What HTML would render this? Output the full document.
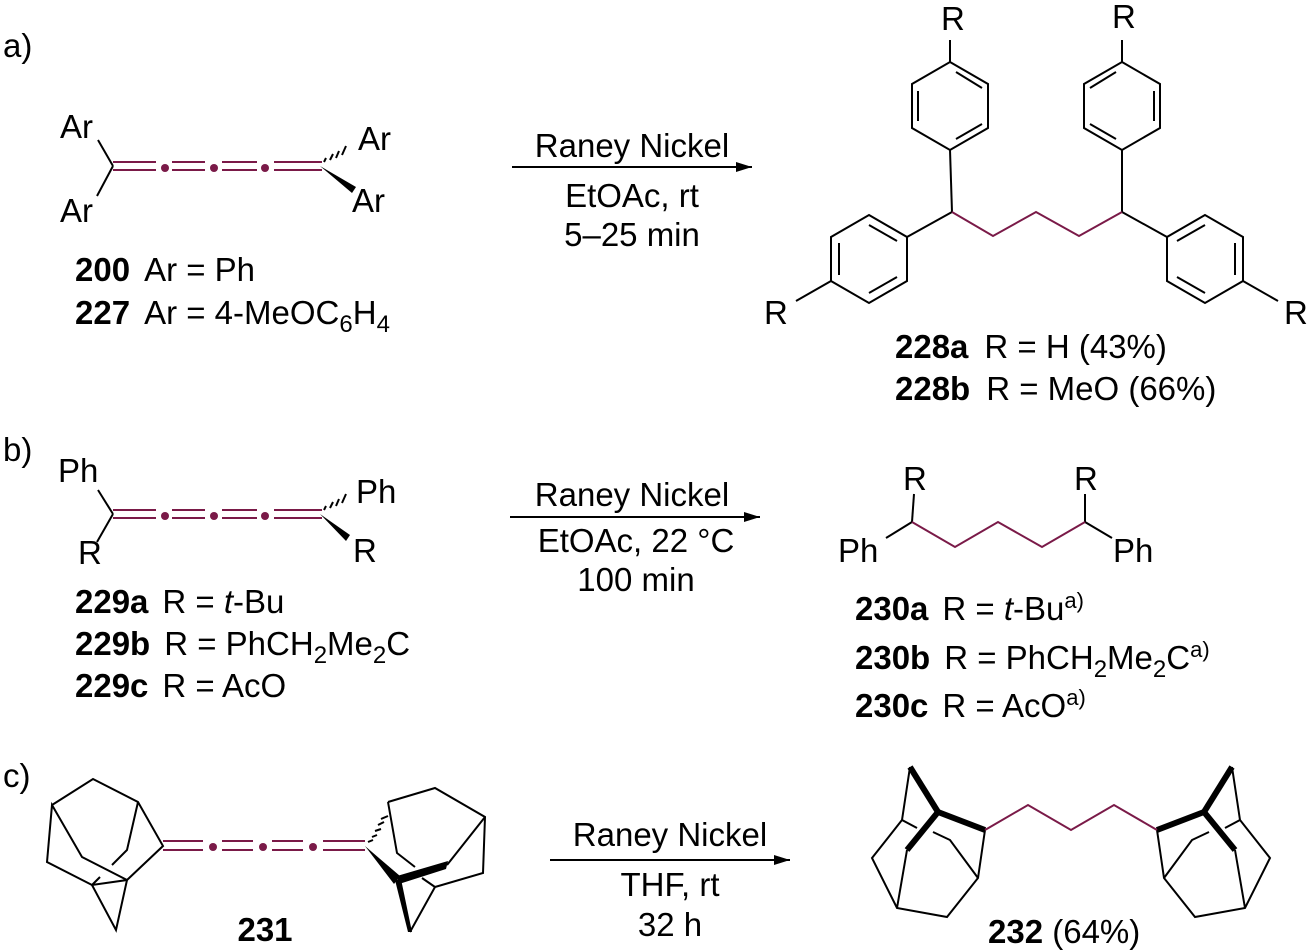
<!DOCTYPE html>
<html><head><meta charset="utf-8"><style>
body{margin:0;background:#fff}
svg{display:block}
text{font-family:"Liberation Sans",sans-serif;font-size:33px;fill:#000}
.b{font-weight:bold}
</style></head><body>
<svg width="1311" height="952" viewBox="0 0 1311 952" xmlns="http://www.w3.org/2000/svg">
<defs><marker id="ah" markerWidth="16" markerHeight="10" refX="16" refY="5" orient="auto" markerUnits="userSpaceOnUse"><path d="M0,0 L16,5 L0,10 Z" fill="#000"/></marker></defs>
<g stroke="#000" stroke-width="2" fill="none">
<line x1="113" y1="166" x2="98" y2="140"/><line x1="113" y1="166" x2="97" y2="196"/>
</g>
<polygon points="320,166 356,187 352,193" fill="#000"/>
<g stroke="#7a1a48" stroke-width="2">
<line x1="113" y1="162" x2="156" y2="162"/><line x1="113" y1="170" x2="156" y2="170"/>
<line x1="172" y1="162" x2="205" y2="162"/><line x1="172" y1="170" x2="205" y2="170"/>
<line x1="222" y1="162" x2="257" y2="162"/><line x1="222" y1="170" x2="257" y2="170"/>
<line x1="274" y1="162" x2="322" y2="162"/><line x1="274" y1="170" x2="322" y2="170"/>
</g>
<g fill="#7a1a48"><circle cx="165" cy="168" r="4"/><circle cx="214" cy="168" r="4"/><circle cx="265" cy="168" r="4"/></g>
<path d="M324,162 l2,-4 M330,160 l3,-6 M336,158 l3,-7 M342,155 l4,-9" stroke="#000" stroke-width="2"/>
<text x="60" y="138">Ar</text><text x="60" y="222">Ar</text><text x="358" y="150">Ar</text><text x="352" y="212">Ar</text>
<line x1="512" y1="167" x2="752" y2="167" stroke="#000" stroke-width="2" marker-end="url(#ah)"/>
<text x="632" y="157" text-anchor="middle">Raney Nickel</text>
<text x="632" y="207" text-anchor="middle">EtOAc, rt</text>
<text x="632" y="246" text-anchor="middle">5–25 min</text>
<text x="75" y="281"><tspan class="b">200</tspan><tspan dx="14">Ar = Ph</tspan></text>
<text x="75" y="324"><tspan class="b">227</tspan><tspan dx="14">Ar = 4-MeOC</tspan><tspan font-size="24" dy="8">6</tspan><tspan dy="-8">H</tspan><tspan font-size="24" dy="8">4</tspan></text>
<g stroke="#000" stroke-width="2" fill="none">
<polygon points="950,62 988,84 988,128 950,150 912,128 912,84"/>
<line x1="956" y1="72" x2="982" y2="88"/><line x1="982" y1="124" x2="956" y2="139"/><line x1="918" y1="91" x2="918" y2="121"/>
<line x1="950" y1="62" x2="950" y2="40"/><line x1="950" y1="150" x2="952" y2="212"/>
<polygon points="1122,62 1160,84 1160,128 1122,150 1084,128 1084,84"/>
<line x1="1116" y1="72" x2="1090" y2="88"/><line x1="1090" y1="124" x2="1116" y2="139"/><line x1="1154" y1="91" x2="1154" y2="121"/>
<line x1="1122" y1="62" x2="1122" y2="40"/><line x1="1122" y1="150" x2="1122" y2="212"/>
<polygon points="869,215 907,237 907,281 869,303 831,281 831,237"/>
<line x1="869" y1="225" x2="897" y2="241"/><line x1="897" y1="277" x2="869" y2="293"/><line x1="839" y1="243" x2="839" y2="275"/>
<line x1="907" y1="237" x2="952" y2="212"/><line x1="831" y1="281" x2="796" y2="301"/>
<polygon points="1205,215 1167,237 1167,281 1205,303 1243,281 1243,237"/>
<line x1="1205" y1="225" x2="1177" y2="241"/><line x1="1177" y1="277" x2="1205" y2="293"/><line x1="1235" y1="243" x2="1235" y2="275"/>
<line x1="1167" y1="237" x2="1122" y2="212"/><line x1="1243" y1="281" x2="1278" y2="301"/>
</g>
<polyline points="952,212 993,236 1036,212 1079,236 1122,212" stroke="#7a1a48" stroke-width="2" fill="none"/>
<text x="941" y="30">R</text><text x="1112" y="28">R</text><text x="764" y="324">R</text><text x="1284" y="324">R</text>
<text x="895" y="358"><tspan class="b">228a</tspan><tspan dx="16">R = H (43%)</tspan></text>
<text x="895" y="400"><tspan class="b">228b</tspan><tspan dx="16">R = MeO (66%)</tspan></text>
<text x="3" y="461">b)</text><text x="3" y="57">a)</text><text x="3" y="787">c)</text>
<g stroke="#000" stroke-width="2" fill="none">
<line x1="113" y1="514" x2="98" y2="490"/><line x1="113" y1="514" x2="97" y2="542"/>
</g>
<polygon points="320,514 350,535 346,541" fill="#000"/>
<path d="M324,510 l2,-4 M330,508 l3,-6 M336,506 l3,-7 M342,503 l4,-9" stroke="#000" stroke-width="2"/>
<g stroke="#7a1a48" stroke-width="2">
<line x1="113" y1="510" x2="156" y2="510"/><line x1="113" y1="518" x2="156" y2="518"/>
<line x1="172" y1="510" x2="205" y2="510"/><line x1="172" y1="518" x2="205" y2="518"/>
<line x1="222" y1="510" x2="257" y2="510"/><line x1="222" y1="518" x2="257" y2="518"/>
<line x1="274" y1="510" x2="322" y2="510"/><line x1="274" y1="518" x2="322" y2="518"/>
</g>
<g fill="#7a1a48"><circle cx="165" cy="516" r="4"/><circle cx="214" cy="516" r="4"/><circle cx="265" cy="516" r="4"/></g>
<text x="58" y="482">Ph</text><text x="78" y="564">R</text><text x="356" y="503">Ph</text><text x="353" y="562">R</text>
<line x1="510" y1="517" x2="760" y2="517" stroke="#000" stroke-width="2" marker-end="url(#ah)"/>
<text x="632" y="506" text-anchor="middle">Raney Nickel</text>
<text x="636" y="552" text-anchor="middle">EtOAc, 22 °C</text>
<text x="636" y="591" text-anchor="middle">100 min</text>
<text x="75" y="613"><tspan class="b">229a</tspan><tspan dx="14">R = </tspan><tspan font-style="italic">t</tspan>-Bu</text>
<text x="75" y="655"><tspan class="b">229b</tspan><tspan dx="14">R = PhCH</tspan><tspan font-size="24" dy="8">2</tspan><tspan dy="-8">Me</tspan><tspan font-size="24" dy="8">2</tspan><tspan dy="-8">C</tspan></text>
<text x="75" y="697"><tspan class="b">229c</tspan><tspan dx="14">R = AcO</tspan></text>
<g stroke="#000" stroke-width="2" fill="none">
<line x1="912" y1="522" x2="914" y2="494"/><line x1="912" y1="522" x2="886" y2="538"/>
<line x1="1085" y1="522" x2="1085" y2="494"/><line x1="1085" y1="522" x2="1112" y2="538"/>
</g>
<polyline points="912,522 955,547 998,522 1042,547 1085,522" stroke="#7a1a48" stroke-width="2" fill="none"/>
<text x="903" y="490">R</text><text x="1074" y="490">R</text><text x="838" y="562">Ph</text><text x="1113" y="562">Ph</text>
<text x="855" y="620"><tspan class="b">230a</tspan><tspan dx="14">R = </tspan><tspan font-style="italic">t</tspan>-Bu<tspan font-size="22" dy="-12">a)</tspan></text>
<text x="855" y="669"><tspan class="b">230b</tspan><tspan dx="14">R = PhCH</tspan><tspan font-size="24" dy="8">2</tspan><tspan dy="-8">Me</tspan><tspan font-size="24" dy="8">2</tspan><tspan dy="-8">C</tspan><tspan font-size="22" dy="-12">a)</tspan></text>
<text x="855" y="717"><tspan class="b">230c</tspan><tspan dx="14">R = AcO</tspan><tspan font-size="22" dy="-12">a)</tspan></text>
<g stroke="#000" stroke-width="2" fill="none">
<polyline points="52,805 93,779 138,802 163,846 127,880 92,885 47,862 52,805 82,857 127,880"/>
<polyline points="138,802 127,850 112,865"/>
<line x1="92" y1="885" x2="100" y2="877"/>
<polyline points="127,880 116,930 92,885"/>
<polyline points="388,802 435,788 485,817 483,873 435,887 410,932"/>
<polyline points="447,865 485,817"/>
<polyline points="388,802 397,853 415,867"/>
<line x1="435" y1="887" x2="422" y2="878"/>
</g>
<polygon points="397,876 448,861 446,869 399,884" fill="#000"/>
<polygon points="395,880 401,879 412,932 408,932" fill="#000"/>
<polygon points="365,846 400,876 394,884" fill="#000"/>
<path d="M368,842 l5,-2 M372,837 l5,-2 M375,831 l6,-2 M378,825 l6,-3 M381,819 l7,-3" stroke="#000" stroke-width="2"/>
<g stroke="#7a1a48" stroke-width="2">
<line x1="163" y1="841" x2="203" y2="841"/><line x1="163" y1="850" x2="203" y2="850"/>
<line x1="222" y1="841" x2="253" y2="841"/><line x1="222" y1="850" x2="253" y2="850"/>
<line x1="272" y1="841" x2="303" y2="841"/><line x1="272" y1="850" x2="303" y2="850"/>
<line x1="323" y1="841" x2="365" y2="841"/><line x1="323" y1="850" x2="365" y2="850"/>
</g>
<g fill="#7a1a48"><circle cx="213" cy="847" r="4"/><circle cx="263" cy="847" r="4"/><circle cx="313" cy="847" r="4"/></g>
<text x="265" y="941" class="b" text-anchor="middle">231</text>
<line x1="550" y1="860" x2="790" y2="860" stroke="#000" stroke-width="2" marker-end="url(#ah)"/>
<text x="670" y="846" text-anchor="middle">Raney Nickel</text>
<text x="670" y="896" text-anchor="middle">THF, rt</text>
<text x="670" y="936" text-anchor="middle">32 h</text>
<g id="ad" stroke="#000" stroke-width="2" fill="none">
<polyline points="910,767 902,820 872,858 897,908 947,917 978,878 985,830"/>
<line x1="902" y1="820" x2="917" y2="828"/>
<line x1="907" y1="850" x2="897" y2="908"/>
<polyline points="933,832 950,840 978,878"/>
<line x1="910" y1="767" x2="938" y2="812" stroke-width="6"/>
<line x1="938" y1="812" x2="985" y2="830" stroke-width="6"/>
<line x1="938" y1="812" x2="907" y2="850" stroke-width="6"/>
</g>
<use href="#ad" transform="translate(2142,0) scale(-1,1)"/>
<polyline points="985,830 1028,805 1071,830 1114,805 1157,830" stroke="#7a1a48" stroke-width="2" fill="none"/>
<text x="988" y="943"><tspan class="b">232</tspan> (64%)</text>
</svg>
</body></html>
